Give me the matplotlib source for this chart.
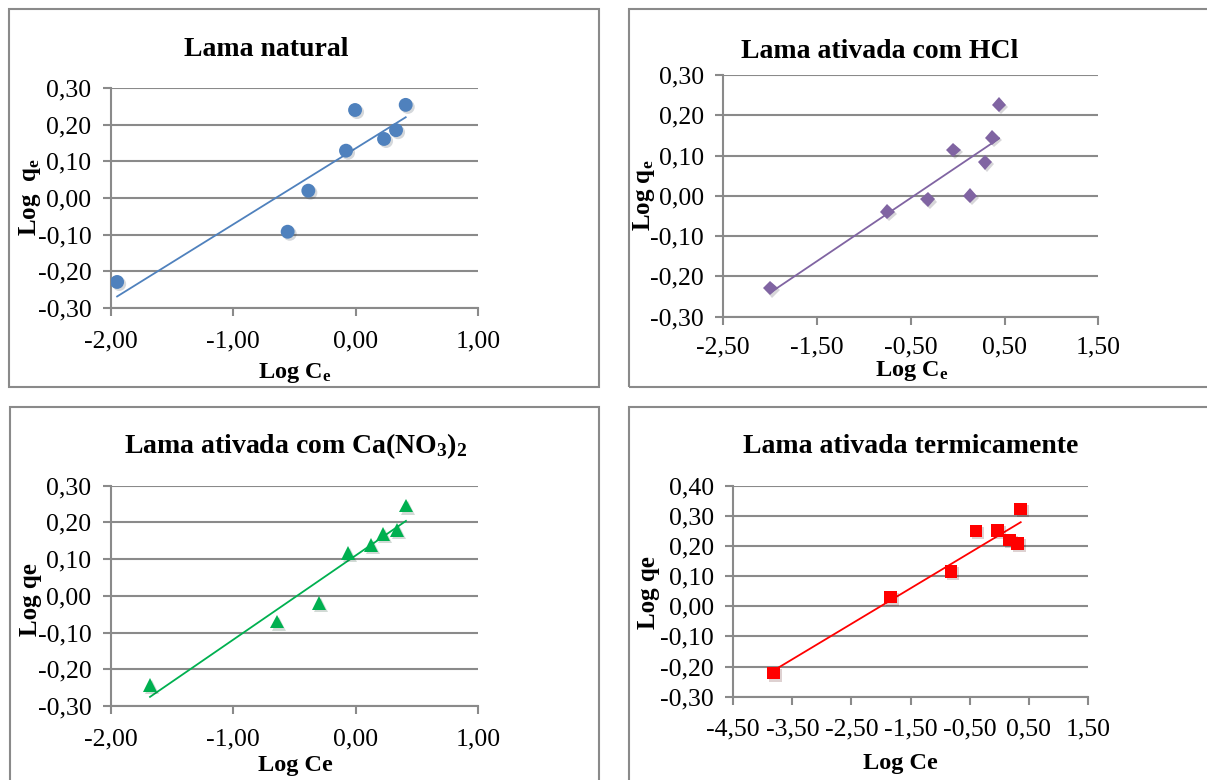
import numpy as np
import matplotlib
matplotlib.use("Agg")
import matplotlib.pyplot as plt
from matplotlib.patches import Rectangle
from matplotlib.ticker import FuncFormatter
import matplotlib.patheffects as pe

plt.rcParams['font.family'] = ['Liberation Serif', 'DejaVu Serif']
plt.rcParams['mathtext.default'] = 'regular'

# data
x_natural = [-1.95, -0.556, -0.387, -0.079, -0.005, 0.232, 0.330, 0.409]
y_natural = [-0.229, -0.092, 0.020, 0.129, 0.240, 0.161, 0.185, 0.254]

x_hcl = [-2.00, -0.751, -0.32, -0.047, 0.131, 0.291, 0.369, 0.441]
y_hcl = [-0.229, -0.039, -0.009, 0.114, 0.000, 0.083, 0.144, 0.226]

x_cano3 = [-1.681, -0.646, -0.300, -0.060, 0.125, 0.221, 0.335, 0.411]
y_cano3 = [-0.243, -0.070, -0.020, 0.116, 0.138, 0.168, 0.179, 0.246]

x_term = [-3.823, -1.836, -0.813, -0.390, -0.024, 0.174, 0.309, 0.366]
y_term = [-0.222, 0.030, 0.115, 0.250, 0.252, 0.220, 0.209, 0.323]

W, H = 1207, 780
fig = plt.figure(figsize=(W / 100, H / 100), dpi=100)

GRAY = '#8a8a8a'

def px_axes(left, top, right, bottom):
    return fig.add_axes([left / W, 1 - bottom / H, (right - left) / W, (bottom - top) / H])

def fmt(v, pos):
    return f"{v:.2f}".replace('.', ',').replace('-0,00', '0,00')

def panel(ax, xs, ys, color, marker, msize, xlim, ylim, xpad=10):
    ax.set_xlim(*xlim)
    ax.set_ylim(*ylim)
    ax.set_xticks(np.arange(xlim[0], xlim[1] + 0.01, 1.0))
    ax.set_yticks(np.arange(ylim[0], ylim[1] + 0.001, 0.1))
    ax.xaxis.set_major_formatter(FuncFormatter(fmt))
    ax.yaxis.set_major_formatter(FuncFormatter(fmt))
    ax.grid(axis='y', color=GRAY, linewidth=1.5)
    ax.set_axisbelow(True)
    for s in ['top', 'right']:
        ax.spines[s].set_visible(False)
    for s in ['left', 'bottom']:
        ax.spines[s].set_color(GRAY)
        ax.spines[s].set_linewidth(1.5)
    ax.tick_params(direction='out', length=6, width=1.5, color=GRAY, labelsize=18.5)
    ax.tick_params(axis='x', pad=xpad)
    ax.tick_params(axis='y', pad=8)
    m, b = np.polyfit(xs, ys, 1)
    xl = np.array([min(xs), max(xs)])
    ax.plot(xl, m * xl + b, color=color, linewidth=1.3, zorder=3)
    ax.plot(xs, ys, linestyle='none', marker=marker, markersize=msize,
            color=color, markeredgewidth=0, zorder=4,
            path_effects=[pe.SimplePatchShadow(offset=(1.5, -1.5), alpha=0.18), pe.Normal()])

ax1 = px_axes(111, 88, 478, 308)
panel(ax1, x_natural, y_natural, '#4f81bd', 'o', 10, (-2, 1), (-0.3, 0.3))

ax2 = px_axes(723.3, 75, 1098.3, 316.7)
panel(ax2, x_hcl, y_hcl, '#8064a2', 'D', 7.5, (-2.5, 1.5), (-0.3, 0.3), xpad=8)

ax3 = px_axes(111, 485.7, 478, 706)
panel(ax3, x_cano3, y_cano3, '#00b050', '^', 10, (-2, 1), (-0.3, 0.3))

ax4 = px_axes(733.3, 485.7, 1087.7, 696.7)
panel(ax4, x_term, y_term, '#ff0000', 's', 9, (-4.5, 1.5), (-0.3, 0.4))

# chart frames
frames = [(9, 9.3, 599.3, 386.7), (629, 9.3, 1215, 386.7),
          (9.5, 406.7, 599.3, 790), (629, 406.7, 1215, 790)]
for l, t, r, btm in frames:
    fig.patches.append(Rectangle((l / W, 1 - btm / H), (r - l) / W, (btm - t) / H,
                                 transform=fig.transFigure, fill=False,
                                 edgecolor=GRAY, linewidth=1.5, zorder=0))

def ftext(x, y, s, size, rot=0):
    fig.text(x / W, 1 - y / H, s, fontsize=size, fontweight='bold',
             ha='center', va='center', rotation=rot)

ftext(266, 50, 'Lama natural', 20)
ftext(880, 52, 'Lama ativada com HCl', 20)
ftext(296, 446, r'Lama ativada com Ca(NO$_3$)$_2$', 20)
ftext(911, 447, 'Lama ativada termicamente', 20)

ftext(295, 373, r'Log C$_e$', 17.5)
ftext(912, 371, r'Log C$_e$', 17.5)
ftext(295, 766, 'Log Ce', 17.5)
ftext(900, 764, 'Log Ce', 17.5)

ftext(30, 197, r'Log  q$_e$', 18, 90)
ftext(644, 195, r'Log q$_e$', 18, 90)
ftext(30, 600, 'Log qe', 18, 90)
ftext(649, 593, 'Log qe', 18, 90)

fig.savefig('out.png', dpi=100)
